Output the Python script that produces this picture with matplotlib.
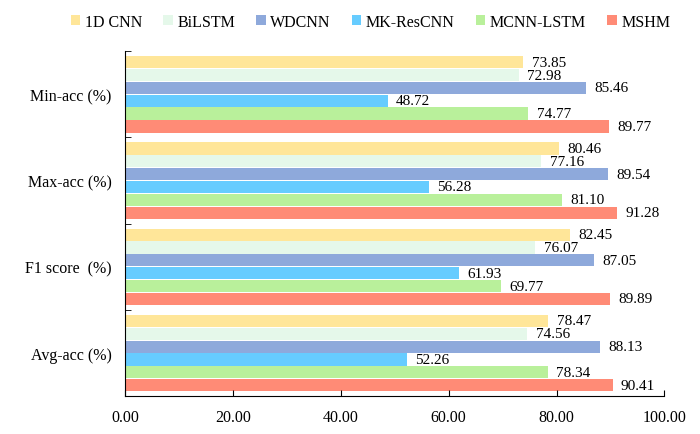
""" Horizontal grouped bar chart of model metrics """

import matplotlib.pyplot as plt
import numpy as np

categories = ["Avg-acc (%)", "F1 score  (%)", "Max-acc (%)", "Min-acc (%)"]
models = ["1D CNN", "BiLSTM", "WDCNN", "MK-ResCNN", "MCNN-LSTM", "MSHM"]
colors = ["#FFE699", "#E5F8EA", "#8EA9DB", "#66CCFF", "#B9F09B", "#FF8B76"]

# values per model, in the order of categories (bottom to top)
cnn_1d = [78.47, 82.45, 80.46, 73.85]
bilstm = [74.56, 76.07, 77.16, 72.98]
wdcnn = [88.13, 87.05, 89.54, 85.46]
mk_rescnn = [52.26, 61.93, 56.28, 48.72]
mcnn_lstm = [78.34, 69.77, 81.10, 74.77]
mshm = [90.41, 89.89, 91.28, 89.77]

series = [cnn_1d, bilstm, wdcnn, mk_rescnn, mcnn_lstm, mshm]

plt.rcParams['font.family'] = ['Liberation Serif', 'DejaVu Serif']
plt.rcParams['font.size'] = 11.5

fig, ax = plt.subplots(figsize=(7, 4.35), dpi=100)
fig.subplots_adjust(left=0.179, right=0.949, top=0.88, bottom=0.087)

y = np.arange(len(categories))
h = 0.149
for j, (name, vals, c) in enumerate(zip(models, series, colors)):
    pos = y + (2.5 - j) * h
    bars = ax.barh(pos, vals, height=h * 0.95, color=c, label=name)
    for b, v in zip(bars, vals):
        ax.annotate(f"{v:.2f}", (v, b.get_y() + b.get_height() / 2),
                    xytext=(6, 0), textcoords="offset points",
                    va="center", ha="left", fontsize=11)

ax.set_xlim(0, 100)
ax.set_ylim(-0.5, len(categories) - 0.5)
ax.set_xticks(np.arange(0, 101, 20))
ax.set_xticklabels([f"{t:.2f}" for t in np.arange(0, 101, 20)])
ax.set_yticks(y)
ax.set_yticklabels(categories)
ax.set_yticks(np.arange(-0.5, len(categories), 1), minor=True)
ax.tick_params(axis="y", which="major", length=0, pad=10)
ax.tick_params(axis="y", which="minor", direction="in", length=4)
ax.tick_params(axis="x", direction="in", length=4, pad=9)
ax.spines["top"].set_visible(False)
ax.spines["right"].set_visible(False)

ax.legend(loc="lower center", bbox_to_anchor=(0.455, 1.02), ncol=6,
          frameon=False, handlelength=0.6, handleheight=0.6,
          columnspacing=1.3, handletextpad=0.3, fontsize=11.5)

plt.savefig("out.png")
